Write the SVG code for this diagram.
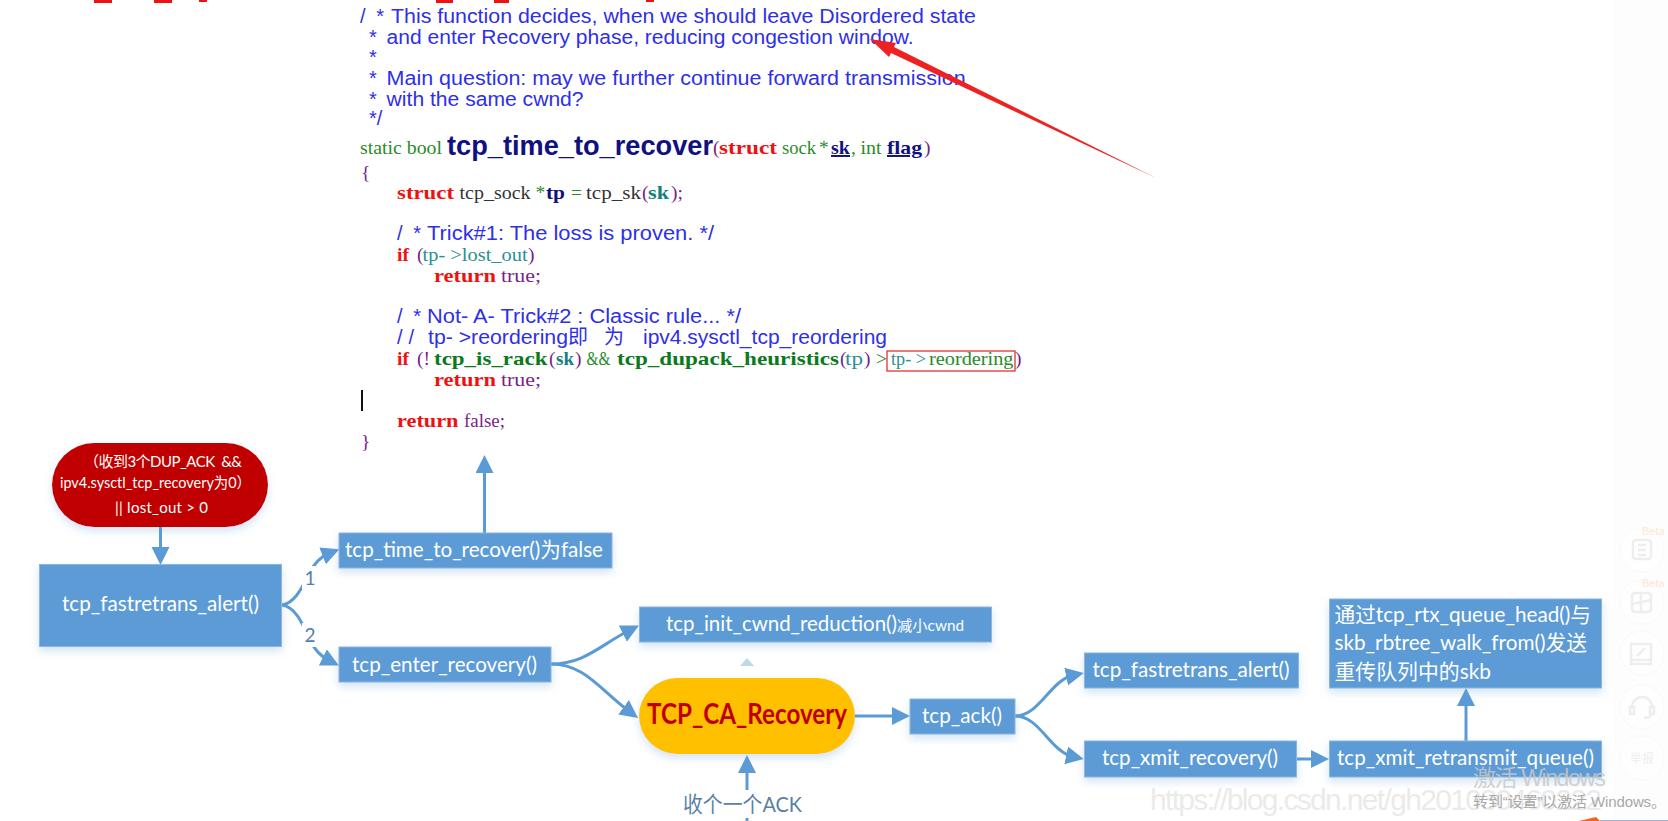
<svg xmlns="http://www.w3.org/2000/svg" width="1668" height="821" viewBox="0 0 1668 821">
<style>
.c{font-family:"Liberation Sans","Noto Sans CJK SC",sans-serif;font-size:20px;fill:#2f2fe8}
.s{font-family:"Liberation Serif","Noto Sans CJK SC",serif;font-size:19.500px;fill:#7a1f8a}
.k{font-weight:bold;fill:#ee1111}
.g{fill:#2a8a2a}
.t{fill:#2a8f8f}
.tb{fill:#158080;font-weight:bold}
.n{fill:#101080;font-weight:bold}
.u{text-decoration:underline}
.d{fill:#0b7a1b;font-weight:bold}
.bk{fill:#333}
.l{font-family:Lato,"Noto Sans CJK SC",sans-serif;font-size:21px;fill:#fff}
.box{fill:#5b9bd5;stroke:#8db6de;stroke-width:1;filter:url(#sh)}
.e{fill:none;stroke:#5b9bd5;stroke-width:3;marker-end:url(#ah)}
.p{fill:none;stroke:#5b9bd5;stroke-width:3}
.num{font-family:Lato,sans-serif;font-size:19px;fill:#4f81b0}
.ic{fill:none;stroke:#eeeeee;stroke-width:2.5}
.ci{fill:#fefefe;stroke:#f9f9f9}
</style>
<defs>
<filter id="sh" x="-10%" y="-20%" width="120%" height="150%"><feDropShadow dx="0" dy="4" stdDeviation="4" flood-color="#5b9bd5" flood-opacity="0.28"/></filter>
<marker id="ah" markerUnits="userSpaceOnUse" markerWidth="20" markerHeight="20" refX="8" refY="9" orient="auto"><path d="M0 0L18 9L0 18Z" fill="#5b9bd5"/></marker>
</defs>
<rect width="1668" height="821" fill="#fff"/>
<rect x="1613" y="0" width="55" height="821" fill="#fdfdfd"/>
<g id="top-fragments" fill="#ee1111"><rect x="94" y="0" width="18" height="3"/><rect x="154" y="0" width="18" height="3"/><rect x="199" y="0" width="8" height="2"/><rect x="436" y="0" width="17" height="3"/><rect x="494" y="0" width="15" height="3"/><rect x="646" y="0" width="8" height="2"/></g>
<g id="code">
<text class="c" y="23"><tspan x="360" textLength="24" lengthAdjust="spacing">/ *</tspan><tspan x="391" textLength="585" lengthAdjust="spacingAndGlyphs">This function decides, when we should leave Disordered state</tspan></text>
<text class="c" y="44"><tspan x="369">*</tspan><tspan x="386.600" textLength="527" lengthAdjust="spacingAndGlyphs">and enter Recovery phase, reducing congestion window.</tspan></text>
<text class="c" y="64" x="369">*</text>
<text class="c" y="85"><tspan x="369">*</tspan><tspan x="386.600" textLength="579" lengthAdjust="spacingAndGlyphs">Main question: may we further continue forward transmission</tspan></text>
<text class="c" y="106"><tspan x="369">*</tspan><tspan x="386.600" textLength="197" lengthAdjust="spacingAndGlyphs">with the same cwnd?</tspan></text>
<text class="c" y="125" x="369">*/</text>
<text class="s" y="154"><tspan x="360" class="g" textLength="82" lengthAdjust="spacingAndGlyphs">static bool</tspan><tspan x="447" y="155" class="n" style="font-family:'Liberation Sans',sans-serif;font-size:28px" textLength="266" lengthAdjust="spacingAndGlyphs">tcp_time_to_recover</tspan><tspan x="713" y="154">(</tspan><tspan x="719" class="k" textLength="58" lengthAdjust="spacingAndGlyphs">struct</tspan><tspan x="782" class="g" textLength="34" lengthAdjust="spacingAndGlyphs">sock</tspan><tspan x="819" class="g">*</tspan><tspan x="831" class="n u" textLength="19" lengthAdjust="spacingAndGlyphs">sk</tspan><tspan x="851" class="g">,</tspan><tspan x="860.600" class="g" textLength="21" lengthAdjust="spacingAndGlyphs">int</tspan><tspan x="887" class="n u" textLength="35" lengthAdjust="spacingAndGlyphs">flag</tspan><tspan x="924">)</tspan></text>
<text class="s" y="179" x="361">{</text>
<text class="s" y="199"><tspan x="397" class="k" textLength="57" lengthAdjust="spacingAndGlyphs">struct</tspan><tspan x="459.500" class="bk" textLength="71" lengthAdjust="spacingAndGlyphs">tcp_sock</tspan><tspan x="535.500" class="g">*</tspan><tspan x="546" class="n" textLength="19" lengthAdjust="spacingAndGlyphs">tp</tspan><tspan x="571" class="g">=</tspan><tspan x="586" class="bk" textLength="55" lengthAdjust="spacingAndGlyphs">tcp_sk</tspan><tspan x="642">(</tspan><tspan x="648" class="tb" textLength="21" lengthAdjust="spacingAndGlyphs">sk</tspan><tspan x="671">);</tspan></text>
<text class="c" y="240"><tspan x="397" textLength="24" lengthAdjust="spacing">/ *</tspan><tspan x="427" textLength="287" lengthAdjust="spacingAndGlyphs">Trick#1: The loss is proven. */</tspan></text>
<text class="s" y="261"><tspan x="397" class="k">if</tspan><tspan x="417">(</tspan><tspan x="422.600" class="t" textLength="105" lengthAdjust="spacingAndGlyphs">tp- &gt;lost_out</tspan><tspan x="528">)</tspan></text>
<text class="s" y="282"><tspan x="434" class="k" textLength="62" lengthAdjust="spacingAndGlyphs">return</tspan><tspan x="501" textLength="40" lengthAdjust="spacingAndGlyphs">true;</tspan></text>
<text class="c" y="323"><tspan x="397" textLength="24" lengthAdjust="spacing">/ *</tspan><tspan x="427" textLength="314" lengthAdjust="spacingAndGlyphs">Not- A- Trick#2 : Classic rule... */</tspan></text>
<text class="c" y="344"><tspan x="397" textLength="17" lengthAdjust="spacing">//</tspan><tspan x="428" textLength="140" lengthAdjust="spacingAndGlyphs">tp- &gt;reordering</tspan><tspan x="568">即</tspan><tspan x="604">为</tspan><tspan x="643" textLength="244" lengthAdjust="spacingAndGlyphs">ipv4.sysctl_tcp_reordering</tspan></text>
<text class="s" y="365"><tspan x="397" class="k">if</tspan><tspan x="417">(!</tspan><tspan x="434" class="d" textLength="113.500" lengthAdjust="spacingAndGlyphs">tcp_is_rack</tspan><tspan x="549">(</tspan><tspan x="556" class="tb" textLength="18" lengthAdjust="spacingAndGlyphs">sk</tspan><tspan x="575">)</tspan><tspan x="586.500" textLength="24" lengthAdjust="spacingAndGlyphs" class="g">&amp;&amp;</tspan><tspan x="617" class="d" textLength="222" lengthAdjust="spacingAndGlyphs">tcp_dupack_heuristics</tspan><tspan x="840">(</tspan><tspan x="845" class="t" textLength="18" lengthAdjust="spacingAndGlyphs">tp</tspan><tspan x="864">)</tspan><tspan x="876" class="g">&gt;</tspan><tspan x="891" class="t" textLength="35" lengthAdjust="spacingAndGlyphs">tp- &gt;</tspan><tspan x="929" class="g" textLength="84.500" lengthAdjust="spacingAndGlyphs">reordering</tspan><tspan x="1015">)</tspan></text>
<text class="s" y="386"><tspan x="434" class="k" textLength="62" lengthAdjust="spacingAndGlyphs">return</tspan><tspan x="501" textLength="40" lengthAdjust="spacingAndGlyphs">true;</tspan></text>
<text class="s" y="427"><tspan x="397" class="k" textLength="61.500" lengthAdjust="spacingAndGlyphs">return</tspan><tspan x="464" textLength="41" lengthAdjust="spacingAndGlyphs">false;</tspan></text>
<text class="s" y="448" x="361">}</text>
<rect x="887" y="351" width="128" height="20" fill="none" stroke="#e02020" stroke-width="1.200"/>
<rect x="361" y="390" width="2" height="21" fill="#111"/>
</g>
<g id="connectors">
<path class="e" d="M160.500 527V555"/>
<path class="e" d="M484.500 533V465"/>
<path class="e" d="M282 605C296 603 303 585 310 572C315 563 320 557 330 553"/>
<path class="e" d="M282 605C296 607 303 625 310 640C315 650 320 656 330 661"/>
<path class="e" d="M551 664C585 664 600 645 630 630"/>
<path class="e" d="M551 664C585 664 600 690 630 712"/>
<path class="e" d="M855 716H900"/>
<path class="e" d="M1015 716C1040 716 1050 680 1074 675"/>
<path class="e" d="M1015 716C1040 716 1050 752 1074 757"/>
<path class="e" d="M1296 759H1319"/>
<path class="e" d="M1466 741V698"/>
<path class="e" d="M747 790V765"/>
<path class="p" d="M747 818V821"/>
<path d="M740 666L747 658L754 666Z" fill="#bcd9ea"/>
<rect x="302" y="566" width="16" height="24" fill="#fff"/>
<rect x="302" y="623" width="16" height="24" fill="#fff"/>
<text class="num" x="310" y="585" text-anchor="middle">1</text>
<text class="num" x="310" y="642" text-anchor="middle">2</text>
</g>
<g id="n-cond">
<rect x="52" y="443" width="216" height="84" rx="42" fill="#c00000" filter="url(#sh)"/>
<text class="l" style="font-size:15px" x="84" y="467" textLength="158" xml:space="preserve">（收到3个DUP_ACK  &amp;&amp;</text>
<text class="l" style="font-size:15px" x="60" y="488" textLength="191" lengthAdjust="spacingAndGlyphs">ipv4.sysctl_tcp_recovery为0）</text>
<text class="l" style="font-size:15px" x="115" y="513" textLength="93">|| lost_out &gt; 0</text>
</g>
<g id="n-fast"><rect class="box" x="39.500" y="564.500" width="242" height="82"/><text class="l" x="62" y="611" textLength="197" lengthAdjust="spacingAndGlyphs">tcp_fastretrans_alert()</text></g>
<g id="n-time"><rect class="box" x="339" y="533" width="273" height="35"/><text class="l" x="345" y="557" textLength="258" lengthAdjust="spacingAndGlyphs">tcp_time_to_recover()为false</text></g>
<g id="n-enter"><rect class="box" x="339" y="647" width="212" height="35"/><text class="l" x="352" y="672" textLength="185" lengthAdjust="spacingAndGlyphs">tcp_enter_recovery()</text></g>
<g id="n-init"><rect class="box" x="639.500" y="607" width="352" height="35"/><text class="l" y="631"><tspan x="666" textLength="231" lengthAdjust="spacingAndGlyphs">tcp_init_cwnd_reduction()</tspan><tspan x="897" style="font-size:15px" textLength="67" lengthAdjust="spacingAndGlyphs">减小cwnd</tspan></text></g>
<g id="n-recovery"><rect x="639" y="678" width="216" height="76" rx="38" fill="#ffc000" filter="url(#sh)"/><text class="l" style="font-size:28px;font-weight:bold;fill:#c00000" x="647" y="724" textLength="200" lengthAdjust="spacingAndGlyphs">TCP_CA_Recovery</text></g>
<g id="n-ack"><rect class="box" x="910" y="699" width="105" height="35"/><text class="l" x="922" y="723" textLength="80" lengthAdjust="spacingAndGlyphs">tcp_ack()</text></g>
<g id="n-fast2"><rect class="box" x="1084.500" y="653" width="214" height="35"/><text class="l" x="1092.500" y="677" textLength="197" lengthAdjust="spacingAndGlyphs">tcp_fastretrans_alert()</text></g>
<g id="n-xmit"><rect class="box" x="1084.500" y="741" width="212" height="36"/><text class="l" x="1102" y="765" textLength="176" lengthAdjust="spacingAndGlyphs">tcp_xmit_recovery()</text></g>
<g id="n-retrans"><rect class="box" x="1329.500" y="741" width="272" height="36"/><text class="l" x="1337" y="765" textLength="257" lengthAdjust="spacingAndGlyphs">tcp_xmit_retransmit_queue()</text></g>
<g id="n-send"><rect class="box" x="1329.500" y="599" width="272" height="89"/>
<text class="l" x="1334.500" y="622" textLength="256.500" lengthAdjust="spacingAndGlyphs">通过tcp_rtx_queue_head()与</text>
<text class="l" x="1334.500" y="650" textLength="252.500" lengthAdjust="spacingAndGlyphs">skb_rbtree_walk_from()发送</text>
<text class="l" x="1334.500" y="679" textLength="156.500" lengthAdjust="spacingAndGlyphs">重传队列中的skb</text></g>
<text id="n-ackin" x="683" y="812" textLength="119" lengthAdjust="spacingAndGlyphs" style="font-family:Lato,'Noto Sans CJK SC',sans-serif;font-size:22px;fill:#5b7fa8">收个一个ACK</text>
<g id="red-arrow"><path d="M870 39L896 43L894 47L1156 178L891 53L889 57Z" fill="#ee2222"/></g>
<g id="side-panel">
<circle class="ci" cx="1642" cy="550" r="22"/><circle class="ci" cx="1642" cy="602" r="22"/><circle class="ci" cx="1642" cy="653" r="22"/><circle class="ci" cx="1642" cy="707" r="22"/><circle class="ci" cx="1642" cy="758" r="22"/>
<text x="1642" y="535" style="font-family:'Liberation Sans',sans-serif;font-size:11px;fill:#fde6d6">Beta</text>
<text x="1642" y="587" style="font-family:'Liberation Sans',sans-serif;font-size:11px;fill:#fde6d6">Beta</text>
<rect class="ic" x="1633" y="540" width="18" height="19" rx="3"/><path class="ic" d="M1638 545h8M1638 550h8M1638 555h8"/>
<rect class="ic" x="1632" y="593" width="19" height="19" rx="3"/><path class="ic" d="M1632 604L1651 600M1641 593V612"/>
<path class="ic" d="M1631 644h20v20h-20zM1631 660h20M1637 656l8-8"/>
<path class="ic" d="M1632 707a10 10 0 0 1 20 0M1630 707h4v7h-4zM1650 707h4v7h-4zM1652 714q-2 4-8 4"/>
<text x="1642" y="763" text-anchor="middle" style="font-family:'Noto Sans CJK SC',sans-serif;font-size:12px;fill:#eeeeee">举报</text>
</g>
<g id="watermarks">
<text x="1150" y="810" textLength="452" style="font-family:'Liberation Sans',sans-serif;font-size:30px;fill:#e4e4e4;fill-opacity:.75">https://blog.csdn.net/gh201030460222</text>
<text x="1473" y="786" textLength="133" style="font-family:'Liberation Sans','Noto Sans CJK SC',sans-serif;font-size:23px;fill:#c8c8c8;fill-opacity:.85">激活 Windows</text>
<text x="1473" y="807" textLength="193" style="font-family:'Liberation Sans','Noto Sans CJK SC',sans-serif;font-size:15px;fill:#a8a8a8">转到“设置”以激活 Windows。</text>
<path d="M1579 821L1596 817L1600 821Z" fill="#f5641e"/><rect x="1600" y="820" width="68" height="1" fill="#9fb6cc"/>
</g>
</svg>
